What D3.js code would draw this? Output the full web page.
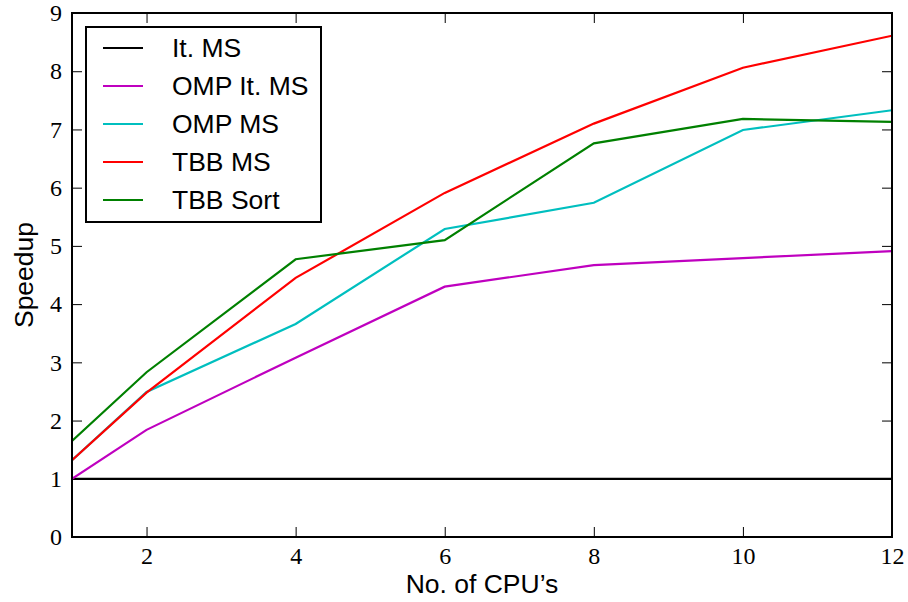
<!DOCTYPE html>
<html>
<head>
<meta charset="utf-8">
<script src="https://cdn.jsdelivr.net/npm/d3@7"></script>
<style>
  body { margin: 0; background: #fff; }
  svg { display: block; }
</style>
</head>
<body>
<div id="chart"></div>
<script>
// data
var cpus = [1, 2, 4, 6, 8, 10, 12];
var seriesNames = ["It. MS", "OMP It. MS", "OMP MS", "TBB MS", "TBB Sort"];
var seriesColors = ["#000000", "#bf00bf", "#00bfbf", "#ff0000", "#008000"];
var itMS = [1, 1, 1, 1, 1, 1, 1];
var ompItMS = [1.0, 1.84, 3.08, 4.30, 4.67, 4.79, 4.91];
var ompMS = [1.32, 2.49, 3.66, 5.29, 5.74, 6.99, 7.33];
var tbbMS = [1.32, 2.48, 4.45, 5.91, 7.10, 8.06, 8.61];
var tbbSort = [1.65, 2.83, 4.77, 5.10, 6.76, 7.18, 7.13];
var xTicks = [2, 4, 6, 8, 10, 12];
var yTicks = [0, 1, 2, 3, 4, 5, 6, 7, 8, 9];

var allSeries = [itMS, ompItMS, ompMS, tbbMS, tbbSort];

var W = 908, H = 602;
var margin = { left: 72, top: 13, right: 16, bottom: 65 };
var width = W - margin.left - margin.right;
var height = H - margin.top - margin.bottom;

var svg = d3.select("#chart").append("svg")
  .attr("width", W)
  .attr("height", H);

var g = svg.append("g")
  .attr("transform", "translate(" + margin.left + "," + margin.top + ")");

var x = d3.scaleLinear().domain([1, 12]).range([0, width]);
var y = d3.scaleLinear().domain([0, 9]).range([height, 0]);

var tickFont = "'Liberation Serif', 'DejaVu Serif', serif";
var sansFont = "'Liberation Sans', Arial, sans-serif";

// <---- inward ticks on all four sides (matplotlib classic style) ---->
function styleAxis(sel) {
  sel.select(".domain").remove();
  sel.selectAll(".tick line").attr("stroke", "#000").attr("stroke-width", 1);
  sel.selectAll(".tick text")
    .attr("font-family", tickFont)
    .attr("font-size", 24)
    .attr("fill", "#000");
}

g.append("g")
  .attr("transform", "translate(0," + height + ")")
  .call(d3.axisBottom(x).tickValues(xTicks).tickSize(-10).tickPadding(10).tickFormat(d3.format("d")))
  .call(styleAxis);

g.append("g")
  .call(d3.axisTop(x).tickValues(xTicks).tickSize(-10).tickFormat(""))
  .call(styleAxis);

g.append("g")
  .call(d3.axisLeft(y).tickValues(yTicks).tickSize(-10).tickPadding(10).tickFormat(d3.format("d")))
  .call(styleAxis);

g.append("g")
  .attr("transform", "translate(" + width + ",0)")
  .call(d3.axisRight(y).tickValues(yTicks).tickSize(-10).tickFormat(""))
  .call(styleAxis);

// <---- the series lines ---->
var line = d3.line()
  .x(function(d, i) { return x(cpus[i]); })
  .y(function(d) { return y(d); });

g.append("defs").append("clipPath").attr("id", "clip")
  .append("rect").attr("width", width).attr("height", height);

g.append("g").attr("clip-path", "url(#clip)")
  .selectAll("path.series")
  .data(allSeries)
  .enter()
  .append("path")
  .attr("class", "series")
  .attr("fill", "none")
  .attr("stroke", function(d, i) { return seriesColors[i]; })
  .attr("stroke-width", 2.2)
  .attr("d", line);

// frame
g.append("rect")
  .attr("width", width)
  .attr("height", height)
  .attr("fill", "none")
  .attr("stroke", "#000")
  .attr("stroke-width", 2);

// <---- legend ---->
var legend = g.append("g").attr("transform", "translate(14,14)");
legend.append("rect")
  .attr("width", 235)
  .attr("height", 195)
  .attr("fill", "#fff")
  .attr("stroke", "#000")
  .attr("stroke-width", 2);

var items = legend.selectAll("g.item")
  .data(seriesNames)
  .enter()
  .append("g")
  .attr("class", "item")
  .attr("transform", function(d, i) { return "translate(0," + (21 + i * 38) + ")"; });

items.append("line")
  .attr("x1", 17).attr("x2", 57)
  .attr("stroke", function(d, i) { return seriesColors[i]; })
  .attr("stroke-width", 2.2);

items.append("text")
  .attr("x", 86)
  .attr("dy", "0.35em")
  .attr("font-family", sansFont)
  .attr("font-size", 26.5)
  .attr("fill", "#000")
  .text(function(d) { return d; });

// <---- axis titles ---->
svg.append("text")
  .attr("x", margin.left + width / 2)
  .attr("y", 593)
  .attr("text-anchor", "middle")
  .attr("font-family", sansFont)
  .attr("font-size", 26.5)
  .text("No. of CPU\u2019s");

svg.append("text")
  .attr("transform", "translate(33," + (margin.top + height / 2) + ") rotate(-90)")
  .attr("text-anchor", "middle")
  .attr("font-family", sansFont)
  .attr("font-size", 26.5)
  .text("Speedup");
</script>
</body>
</html>
